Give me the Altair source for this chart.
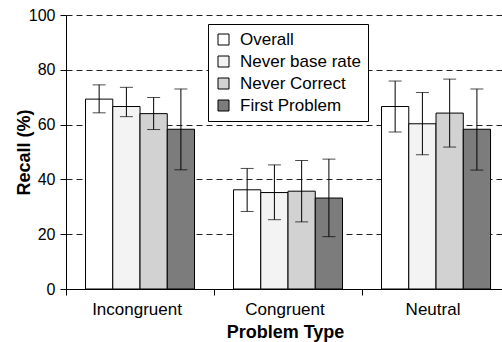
import altair as alt
import pandas as pd

categories = ["Incongruent", "Congruent", "Neutral"]
series = ["Overall", "Never base rate", "Never Correct", "First Problem"]

# mean recall per series, in category order
overall_mean = [69.3, 36.2, 66.6]
never_base_mean = [66.6, 35.2, 60.3]
never_correct_mean = [64.0, 35.7, 64.2]
first_problem_mean = [58.3, 33.2, 58.3]

# error bar ends
overall_hi = [74.5, 44.0, 75.9]
overall_lo = [64.3, 28.3, 57.3]
never_base_hi = [73.6, 45.3, 71.7]
never_base_lo = [62.9, 25.3, 49.0]
never_correct_hi = [69.9, 46.9, 76.6]
never_correct_lo = [58.2, 24.5, 51.8]
first_problem_hi = [73.0, 47.4, 73.0]
first_problem_lo = [43.5, 19.1, 43.4]

fills = ["#ffffff", "#f3f3f3", "#d2d2d2", "#7c7c7c"]

means = [overall_mean, never_base_mean, never_correct_mean, first_problem_mean]
his = [overall_hi, never_base_hi, never_correct_hi, first_problem_hi]
los = [overall_lo, never_base_lo, never_correct_lo, first_problem_lo]

rows = []
for s, m, h, l in zip(series, means, his, los):
    for i, c in enumerate(categories):
        rows.append({"type": c, "series": s, "mean": m[i], "hi": h[i], "lo": l[i]})
df = pd.DataFrame(rows)

FONT = "Liberation Sans"

x = alt.X(
    "type:N",
    sort=categories,
    scale=alt.Scale(paddingInner=0.2635, paddingOuter=0.1047, align=0.63),
    axis=alt.Axis(
        title="Problem Type",
        titleFontSize=18,
        titleFontWeight="bold",
        titleX=219,
        titleY=48,
        titleBaseline="alphabetic",
        labelAngle=0,
        labelFontSize=17,
        labelPadding=6,
        labelOffset=-3,
        tickSize=6,
        bandPosition=-0.179,
        domainColor="black",
        tickColor="black",
        labelColor="black",
        titleColor="black",
        grid=False,
    ),
)
xo = alt.XOffset("series:N", sort=series, scale=alt.Scale(paddingInner=0, paddingOuter=0))

base = alt.Chart(df)

bars = base.mark_bar(stroke="black", strokeWidth=1, opacity=1).encode(
    x=x,
    xOffset=xo,
    y=alt.Y(
        "mean:Q",
        scale=alt.Scale(domain=[0, 100], nice=False),
        axis=alt.Axis(
            title="Recall (%)",
            titleFontSize=18,
            titleFontWeight="bold",
            titleX=-37,
            titleY=137,
            titleAngle=270,
            titleAlign="center",
            titleBaseline="alphabetic",
            values=[0, 20, 40, 60, 80, 100],
            labelFontSize=16,
            labelPadding=5,
            tickSize=6,
            grid=True,
            gridDash=[6, 4],
            gridColor="#222222",
            gridWidth=1,
            domainColor="black",
            tickColor="black",
            labelColor="black",
            titleColor="black",
        ),
    ),
    fill=alt.Fill(
        "series:N",
        sort=series,
        scale=alt.Scale(domain=series, range=fills),
        legend=alt.Legend(
            title=None,
            orient="none",
            legendX=142,
            legendY=9,
            padding=7,
            strokeColor="black",
            fillColor="white",
            symbolType="square",
            symbolSize=121,
            symbolStrokeColor="black",
            symbolStrokeWidth=1,
            symbolOpacity=1,
            labelFontSize=17,
            labelColor="black",
            labelOffset=8,
            rowPadding=4,
        ),
    ),
)

rules = base.mark_rule(color="black", strokeWidth=1).encode(
    x=x, xOffset=xo, y="lo:Q", y2="hi:Q"
)
cap_hi = base.mark_tick(color="black", thickness=1, size=13, orient="horizontal").encode(
    x=x, xOffset=xo, y="hi:Q"
)
cap_lo = base.mark_tick(color="black", thickness=1, size=13, orient="horizontal").encode(
    x=x, xOffset=xo, y="lo:Q"
)

chart = (
    alt.layer(bars, rules, cap_hi, cap_lo)
    .properties(
        width=436,
        height=274,
        autosize=alt.AutoSizeParams(type="none"),
        padding={"left": 66, "top": 15, "right": 0, "bottom": 53},
    )
    .configure(font=FONT, background="white")
    .configure_view(strokeWidth=0)
)

chart.save("out.html", embed_options={"renderer": "svg", "actions": False})
